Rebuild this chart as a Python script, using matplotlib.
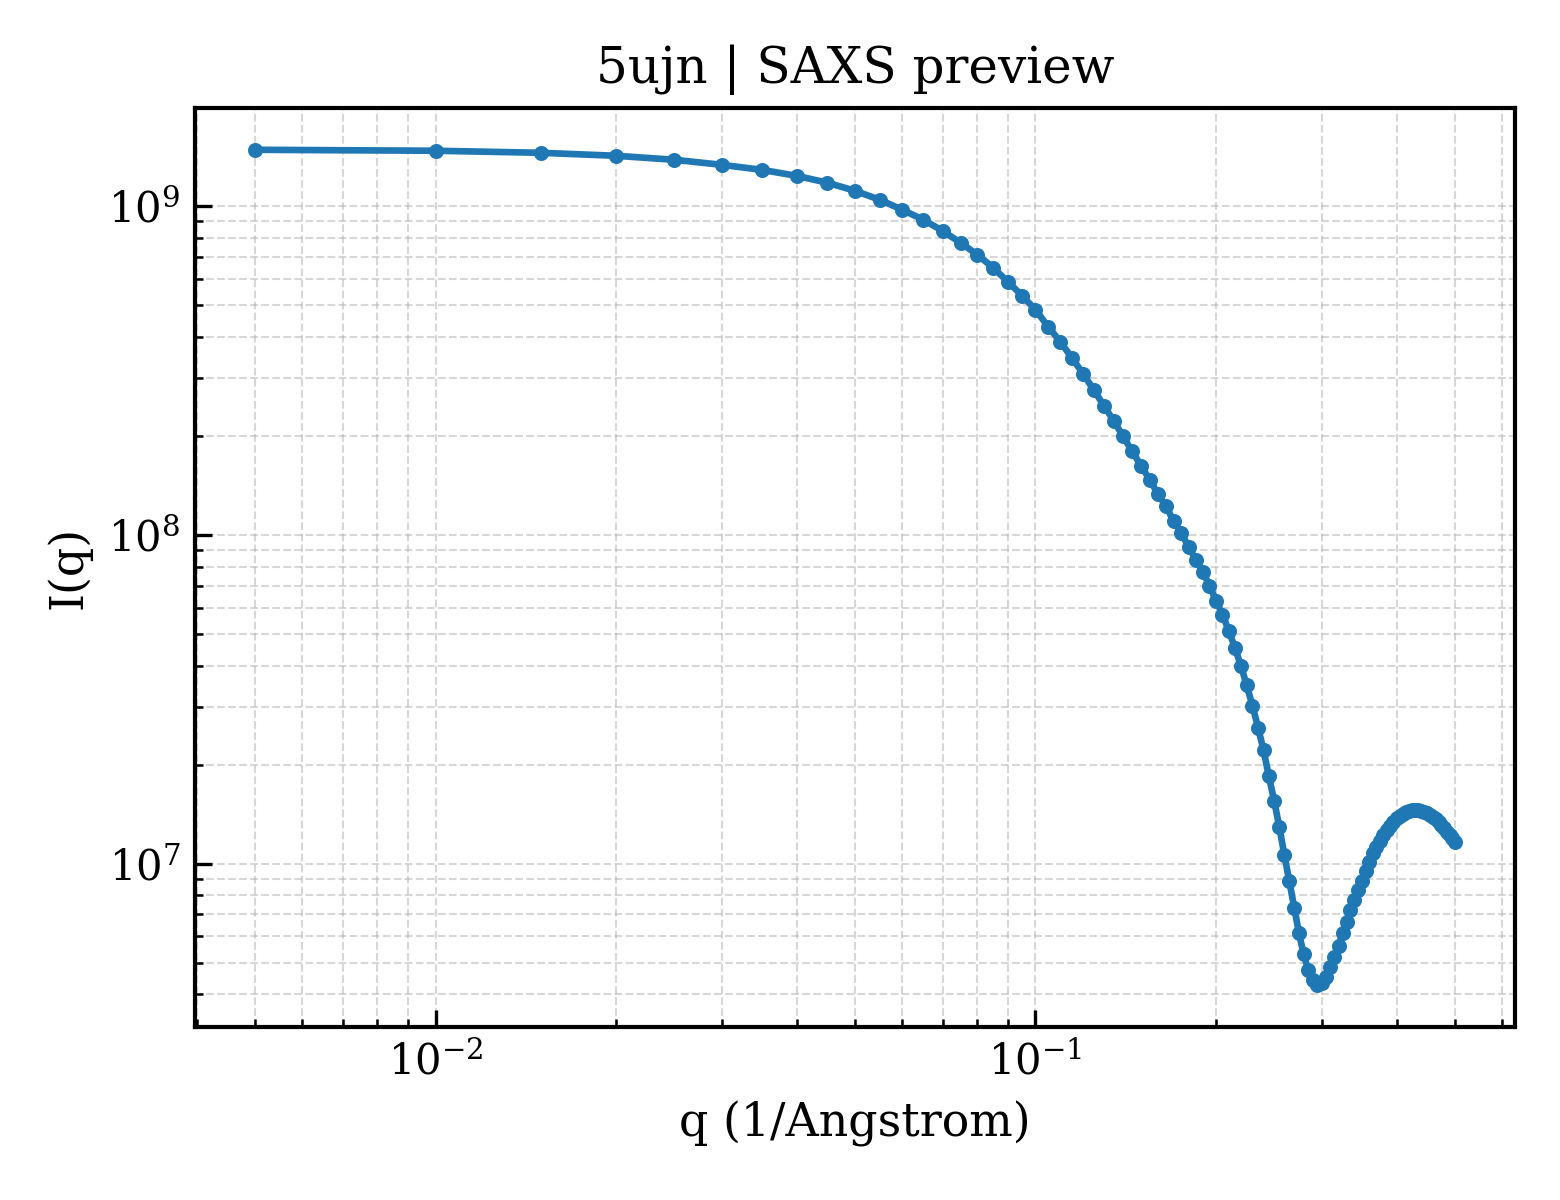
## Imports
import matplotlib
matplotlib.use("Agg")  # no display in the sandbox
import matplotlib.pyplot as plt

q_values = [
    0.005, 0.010, 0.015, 0.020, 0.025, 0.030, 0.035, 0.040, 0.045, 0.050,
    0.055, 0.060, 0.065, 0.070, 0.075, 0.080, 0.085, 0.090, 0.095, 0.100,
    0.105, 0.110, 0.115, 0.120, 0.125, 0.130, 0.135, 0.140, 0.145, 0.150,
    0.155, 0.160, 0.165, 0.170, 0.175, 0.180, 0.185, 0.190, 0.195, 0.200,
    0.205, 0.210, 0.215, 0.220, 0.225, 0.230, 0.235, 0.240, 0.245, 0.250,
    0.255, 0.260, 0.265, 0.270, 0.275, 0.280, 0.285, 0.290, 0.295, 0.300,
    0.305, 0.310, 0.315, 0.320, 0.325, 0.330, 0.335, 0.340, 0.345, 0.350,
    0.355, 0.360, 0.365, 0.370, 0.375, 0.380, 0.385, 0.390, 0.395, 0.400,
    0.405, 0.410, 0.415, 0.420, 0.425, 0.430, 0.435, 0.440, 0.445, 0.450,
    0.455, 0.460, 0.465, 0.470, 0.475, 0.480, 0.485, 0.490, 0.495, 0.500,
]
intensity = [
    1.480e9, 1.470e9, 1.449e9, 1.419e9, 1.380e9, 1.332e9, 1.286e9, 1.233e9, 1.175e9, 1.111e9,
    1.043e9, 9.72e8, 9.07e8, 8.39e8, 7.72e8, 7.10e8, 6.48e8, 5.87e8, 5.33e8, 4.83e8,
    4.29e8, 3.86e8, 3.45e8, 3.09e8, 2.76e8, 2.47e8, 2.22e8, 1.99e8, 1.79e8, 1.62e8,
    1.47e8, 1.33e8, 1.22e8, 1.10e8, 1.01e8, 9.19e7, 8.40e7, 7.72e7, 7.00e7, 6.30e7,
    5.71e7, 5.11e7, 4.53e7, 4.00e7, 3.48e7, 3.02e7, 2.59e7, 2.21e7, 1.84e7, 1.55e7,
    1.29e7, 1.06e7, 8.82e6, 7.35e6, 6.13e6, 5.29e6, 4.73e6, 4.41e6, 4.26e6, 4.32e6,
    4.53e6, 4.83e6, 5.18e6, 5.63e6, 6.13e6, 6.66e6, 7.20e6, 7.72e6, 8.28e6, 8.88e6,
    9.52e6, 1.014e7, 1.073e7, 1.126e7, 1.175e7, 1.225e7, 1.269e7, 1.305e7, 1.342e7, 1.380e7,
    1.399e7, 1.419e7, 1.439e7, 1.449e7, 1.459e7, 1.459e7, 1.459e7, 1.449e7, 1.439e7, 1.429e7,
    1.409e7, 1.390e7, 1.370e7, 1.342e7, 1.314e7, 1.287e7, 1.251e7, 1.225e7, 1.192e7, 1.166e7,
]

pdb_id = "5ujn"

## Style: serif text, inward ticks on left and bottom only
plt.rcParams["font.family"] = ["DejaVu Serif"]
plt.rcParams["xtick.direction"] = "in"
plt.rcParams["ytick.direction"] = "in"
plt.rcParams["axes.linewidth"] = 1.0

## Plot
fig, ax = plt.subplots(figsize=(5.2, 4.0), dpi=300)
fig.subplots_adjust(left=0.125, right=0.971, bottom=0.144, top=0.91)

ax.plot(q_values, intensity, "-o", color="#1f77b4", lw=1.6, ms=2.6)
ax.set_xscale("log")
ax.set_yscale("log")

ax.grid(True, which="both", ls="--", lw=0.5, color="#b0b0b0", alpha=0.5)
ax.tick_params(which="major", length=4, labelsize=10)
ax.tick_params(which="minor", length=2)

ax.set_xlabel("q (1/Angstrom)", fontsize=11)
ax.set_ylabel("I(q)", fontsize=11)
ax.set_title(f"{pdb_id} | SAXS preview", fontsize=12)

fig.savefig("out.png", dpi=300)
